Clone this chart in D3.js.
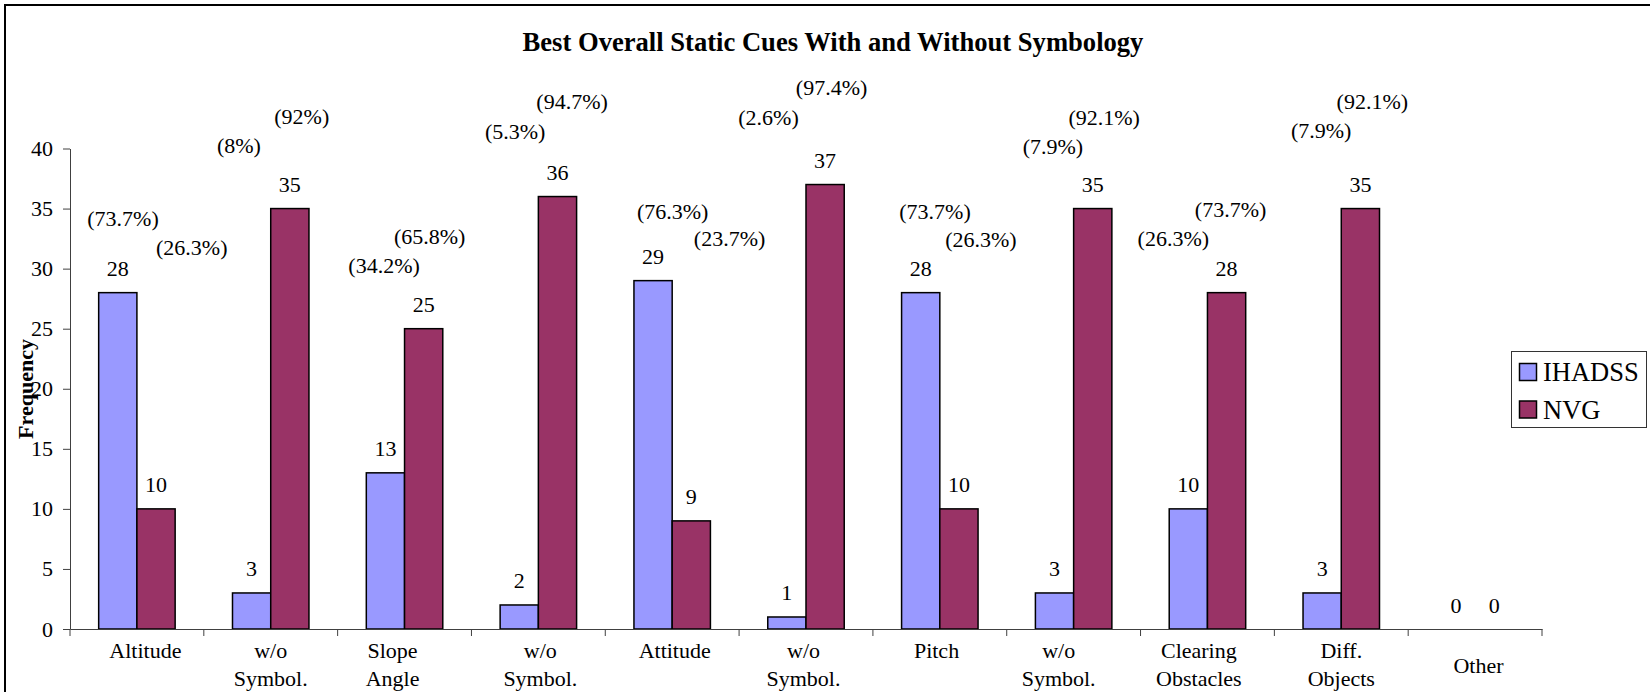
<!DOCTYPE html>
<html>
<head>
<meta charset="utf-8">
<script src="https://cdn.jsdelivr.net/npm/d3@7/dist/d3.min.js"></script>
<style>
  html, body { margin: 0; padding: 0; background: #fff; }
  svg { display: block; }
  text { font-family: "Liberation Serif", "Times New Roman", serif; fill: #000; }
</style>
</head>
<body>
<svg id="chart" width="1650" height="692"></svg>
<script>
// ---------- data ----------
const categories = ["Altitude", "w/o\nSymbol.", "Slope\nAngle", "w/o\nSymbol.", "Attitude",
                    "w/o\nSymbol.", "Pitch", "w/o\nSymbol.", "Clearing\nObstacles", "Diff.\nObjects", "Other"];
const seriesNames = ["IHADSS", "NVG"];
const ihadss = [28, 3, 13, 2, 29, 1, 28, 3, 10, 3, 0];
const nvg    = [10, 35, 25, 36, 9, 37, 10, 35, 28, 35, 0];
const pctIhadss = ["(73.7%)", "(8%)", "(34.2%)", "(5.3%)", "(76.3%)", "(2.6%)", "(73.7%)", "(7.9%)", "(26.3%)", "(7.9%)", null];
const pctNvg    = ["(26.3%)", "(92%)", "(65.8%)", "(94.7%)", "(23.7%)", "(97.4%)", "(26.3%)", "(92.1%)", "(73.7%)", "(92.1%)", null];
const yTicks = [0, 5, 10, 15, 20, 25, 30, 35, 40];

// ---------- annotation layout (percent labels: offset in band fractions, level in frequency units) ----------
const pctIhadssDx = [-0.104, -0.238, -0.153, -0.173, 0.004, -0.280, -0.036, -0.155, -0.255, -0.150];
const pctIhadssLv = [34.2, 40.3, 30.3, 41.4, 34.8, 42.6, 34.8, 40.2, 32.5, 41.5];
const pctNvgDx    = [0.410, 0.232, 0.188, 0.252, 0.429, 0.191, 0.307, 0.228, 0.173, 0.232];
const pctNvgLv    = [31.8, 42.65, 32.7, 43.9, 32.5, 45.1, 32.4, 42.6, 34.9, 43.9];

const colors = { IHADSS: "#9999FF", NVG: "#993366" };
const axisColor = "#404040";

// ---------- layout ----------
const svg = d3.select("#chart");
const plot = { left: 70, right: 1542, top: 148.5, bottom: 629 };

// frame (extends beyond the image to the right/bottom as in the reference)
svg.append("rect").attr("x", 5).attr("y", 5).attr("width", 1700).attr("height", 800)
  .attr("fill", "none").attr("stroke", "#000").attr("stroke-width", 2);

const x0 = d3.scaleBand().domain(d3.range(categories.length)).range([plot.left, plot.right]).padding(0);
const x1 = d3.scaleBand().domain(seriesNames).range([0, x0.bandwidth()]).paddingInner(0).paddingOuter(0.75);
const y = d3.scaleLinear().domain([0, 40]).range([plot.bottom, plot.top]);

// title
svg.append("text").attr("x", 833).attr("y", 51).attr("text-anchor", "middle")
  .style("font-size", "26.6px").style("font-weight", "bold")
  .text("Best Overall Static Cues With and Without Symbology");

// y axis
const yAxis = svg.append("g").attr("transform", `translate(${plot.left},0)`)
  .call(d3.axisLeft(y).tickValues(yTicks).tickSize(7).tickPadding(10).tickSizeOuter(0));
yAxis.selectAll("text").style("font-size", "22px").style("font-family", "'Liberation Serif', serif");
yAxis.selectAll("line, path").attr("stroke", axisColor);

// y label
svg.append("text").attr("transform", "translate(33,389) rotate(-90)").attr("text-anchor", "middle")
  .style("font-size", "22px").style("font-weight", "bold").text("Frequency");

// bars
const rows = categories.map((c, i) => ({ i, IHADSS: ihadss[i], NVG: nvg[i] }));
const groups = svg.append("g").selectAll("g").data(rows).join("g")
  .attr("transform", d => `translate(${x0(d.i)},0)`);
groups.selectAll("rect").data(d => seriesNames.map(s => ({ s, v: d[s] }))).join("rect")
  .attr("x", d => x1(d.s)).attr("width", x1.bandwidth())
  .attr("y", d => y(d.v)).attr("height", d => y(0) - y(d.v))
  .attr("fill", d => colors[d.s]).attr("stroke", "#000").attr("stroke-width", 1.5)
  .style("display", d => d.v > 0 ? null : "none");

// value labels
groups.selectAll("text.val").data(d => seriesNames.map(s => ({ s, v: d[s] }))).join("text")
  .attr("class", "val")
  .attr("x", d => x1(d.s) + x1.bandwidth() / 2).attr("y", d => y(d.v) - 16.5)
  .attr("text-anchor", "middle").style("font-size", "22px").text(d => d.v);

// x axis
const xAxis = svg.append("g").attr("transform", `translate(0,${plot.bottom})`)
  .call(d3.axisBottom(x0).tickSize(0).tickFormat(() => ""));
xAxis.selectAll("line, path").attr("stroke", axisColor);
// tick marks at category boundaries
svg.append("g").selectAll("line").data(d3.range(categories.length + 1)).join("line")
  .attr("x1", i => plot.left + i * x0.step()).attr("x2", i => plot.left + i * x0.step())
  .attr("y1", plot.bottom).attr("y2", plot.bottom + 7).attr("stroke", axisColor);

// category labels
const labelNudge = [8.5, 0, -12, 2, 2.5, -2.5, -3.3, -15, -8.6, 0, 3.4];
const catLabels = svg.append("g").selectAll("text").data(categories).join("text")
  .attr("text-anchor", "middle").style("font-size", "22px")
  .attr("transform", (c, i) => `translate(${x0(i) + x0.bandwidth() / 2 + labelNudge[i]},0)`);
catLabels.each(function (c) {
  const lines = c.split("\n");
  const startY = lines.length === 1 && c === "Other" ? 673 : 658;
  d3.select(this).selectAll("tspan").data(lines).join("tspan")
    .attr("x", 0).attr("y", (l, k) => startY + k * 28).text(l => l);
});

// percent labels
const pctG = svg.append("g");
categories.forEach((c, i) => {
  const cx = x0(i) + x0.bandwidth() / 2;
  if (pctIhadss[i]) pctG.append("text").attr("x", cx + pctIhadssDx[i] * x0.step()).attr("y", y(pctIhadssLv[i]))
    .attr("dy", "0.35em").attr("text-anchor", "middle").style("font-size", "22px").text(pctIhadss[i]);
  if (pctNvg[i]) pctG.append("text").attr("x", cx + pctNvgDx[i] * x0.step()).attr("y", y(pctNvgLv[i]))
    .attr("dy", "0.35em").attr("text-anchor", "middle").style("font-size", "22px").text(pctNvg[i]);
});

// legend
const leg = svg.append("g").attr("transform", "translate(1511.5,351.5)");
leg.append("rect").attr("width", 135).attr("height", 76).attr("fill", "#fff").attr("stroke", "#333").attr("stroke-width", 1);
seriesNames.forEach((s, k) => {
  leg.append("rect").attr("x", 8).attr("y", 12 + k * 37.5).attr("width", 17).attr("height", 17)
    .attr("fill", colors[s]).attr("stroke", "#000").attr("stroke-width", 1.5);
  leg.append("text").attr("x", 31.5).attr("y", 29.5 + k * 37.5).style("font-size", "26.5px").text(s);
});
</script>
</body>
</html>
